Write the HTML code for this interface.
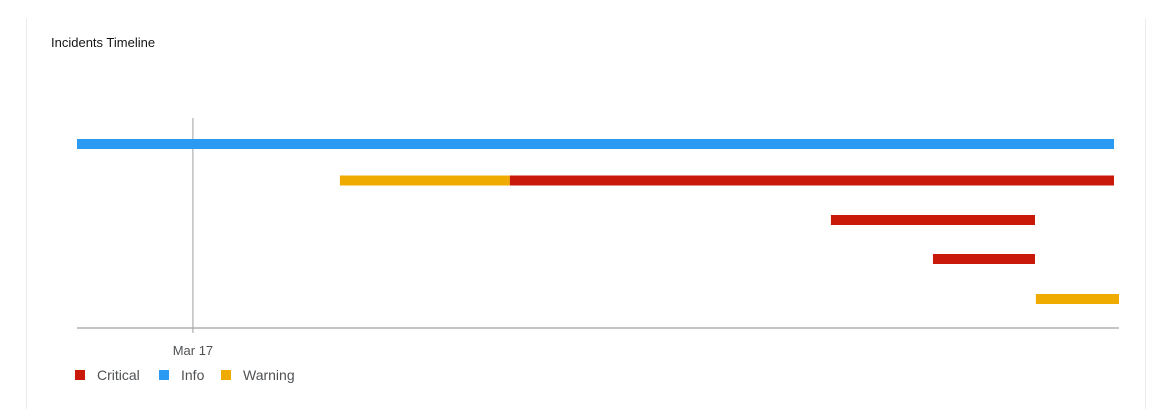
<!DOCTYPE html>
<html><head><meta charset="utf-8">
<style>
html,body{margin:0;padding:0;background:#fff;}
body{width:1169px;height:409px;overflow:hidden;position:relative;font-family:"Liberation Sans",sans-serif;}
.card{position:absolute;left:26px;top:18px;width:1118px;height:391px;border-left:1px solid #ececec;border-right:1px solid #ececec;}
.title{position:absolute;left:51px;top:35px;font-size:13px;color:#151515;}
svg{position:absolute;left:0;top:0;}
</style></head><body>
<div class="card"></div>
<div class="title">Incidents Timeline</div>
<svg id="chart" width="1169" height="409"></svg>
<script>
const rows = [0, 1, 1, 2, 3, 4];
const starts = [0, 12.11, 19.94, 34.73, 39.43, 44.17];
const ends = [47.77, 19.94, 47.77, 44.13, 44.13, 48];
const severities = ["Info", "Warning", "Critical", "Critical", "Critical", "Warning"];
const tickValues = [5.34];
const tickLabels = ["Mar 17"];
const legendLabels = ["Critical", "Info", "Warning"];

const colors = {Critical:"#c9190b", Info:"#2b9af3", Warning:"#f0ab00"};
const x0 = 77, x1 = 1119, dMin = 0, dMax = 48;
const xs = v => x0 + (v - dMin) / (dMax - dMin) * (x1 - x0);
const rowCenters = [144, 180.5, 220, 259, 299];
const ys = r => rowCenters[r];
const NS = "http://www.w3.org/2000/svg";
const svg = document.getElementById("chart");
function mk(tag, attrs){const e=document.createElementNS(NS,tag);for(const k in attrs)e.setAttribute(k,attrs[k]);svg.appendChild(e);return e;}

const axis = mk("line",{x1:x0,x2:x1,y1:328,y2:328,stroke:"#c4c4c4","stroke-width":2});



tickValues.forEach((t,i)=>{
  const g = mk("line",{x1:xs(t),x2:xs(t),y1:118,y2:333,stroke:"#a0a0a0","stroke-width":1});
  
  
  const tx = mk("text",{x:xs(t),y:355,"text-anchor":"middle","font-size":"13",fill:"#4f5255","font-family":"Liberation Sans, sans-serif"});
  tx.textContent = tickLabels[i];
  
  
});

rows.forEach((r,i)=>{
  const b = mk("rect",{x:xs(starts[i]),y:ys(r)-5,width:xs(ends[i])-xs(starts[i]),height:10,fill:colors[severities[i]]});
  
  
});

const legX = [75, 159, 221];
legendLabels.forEach((l,i)=>{
  const r = mk("rect",{x:legX[i],y:370,width:10,height:10,fill:colors[l]});
  
  
  const t = mk("text",{x:legX[i]+22,y:380,"font-size":"14",fill:"#4f5255","font-family":"Liberation Sans, sans-serif"});
  t.textContent = l;
  
  
});
</script>
</body></html>
